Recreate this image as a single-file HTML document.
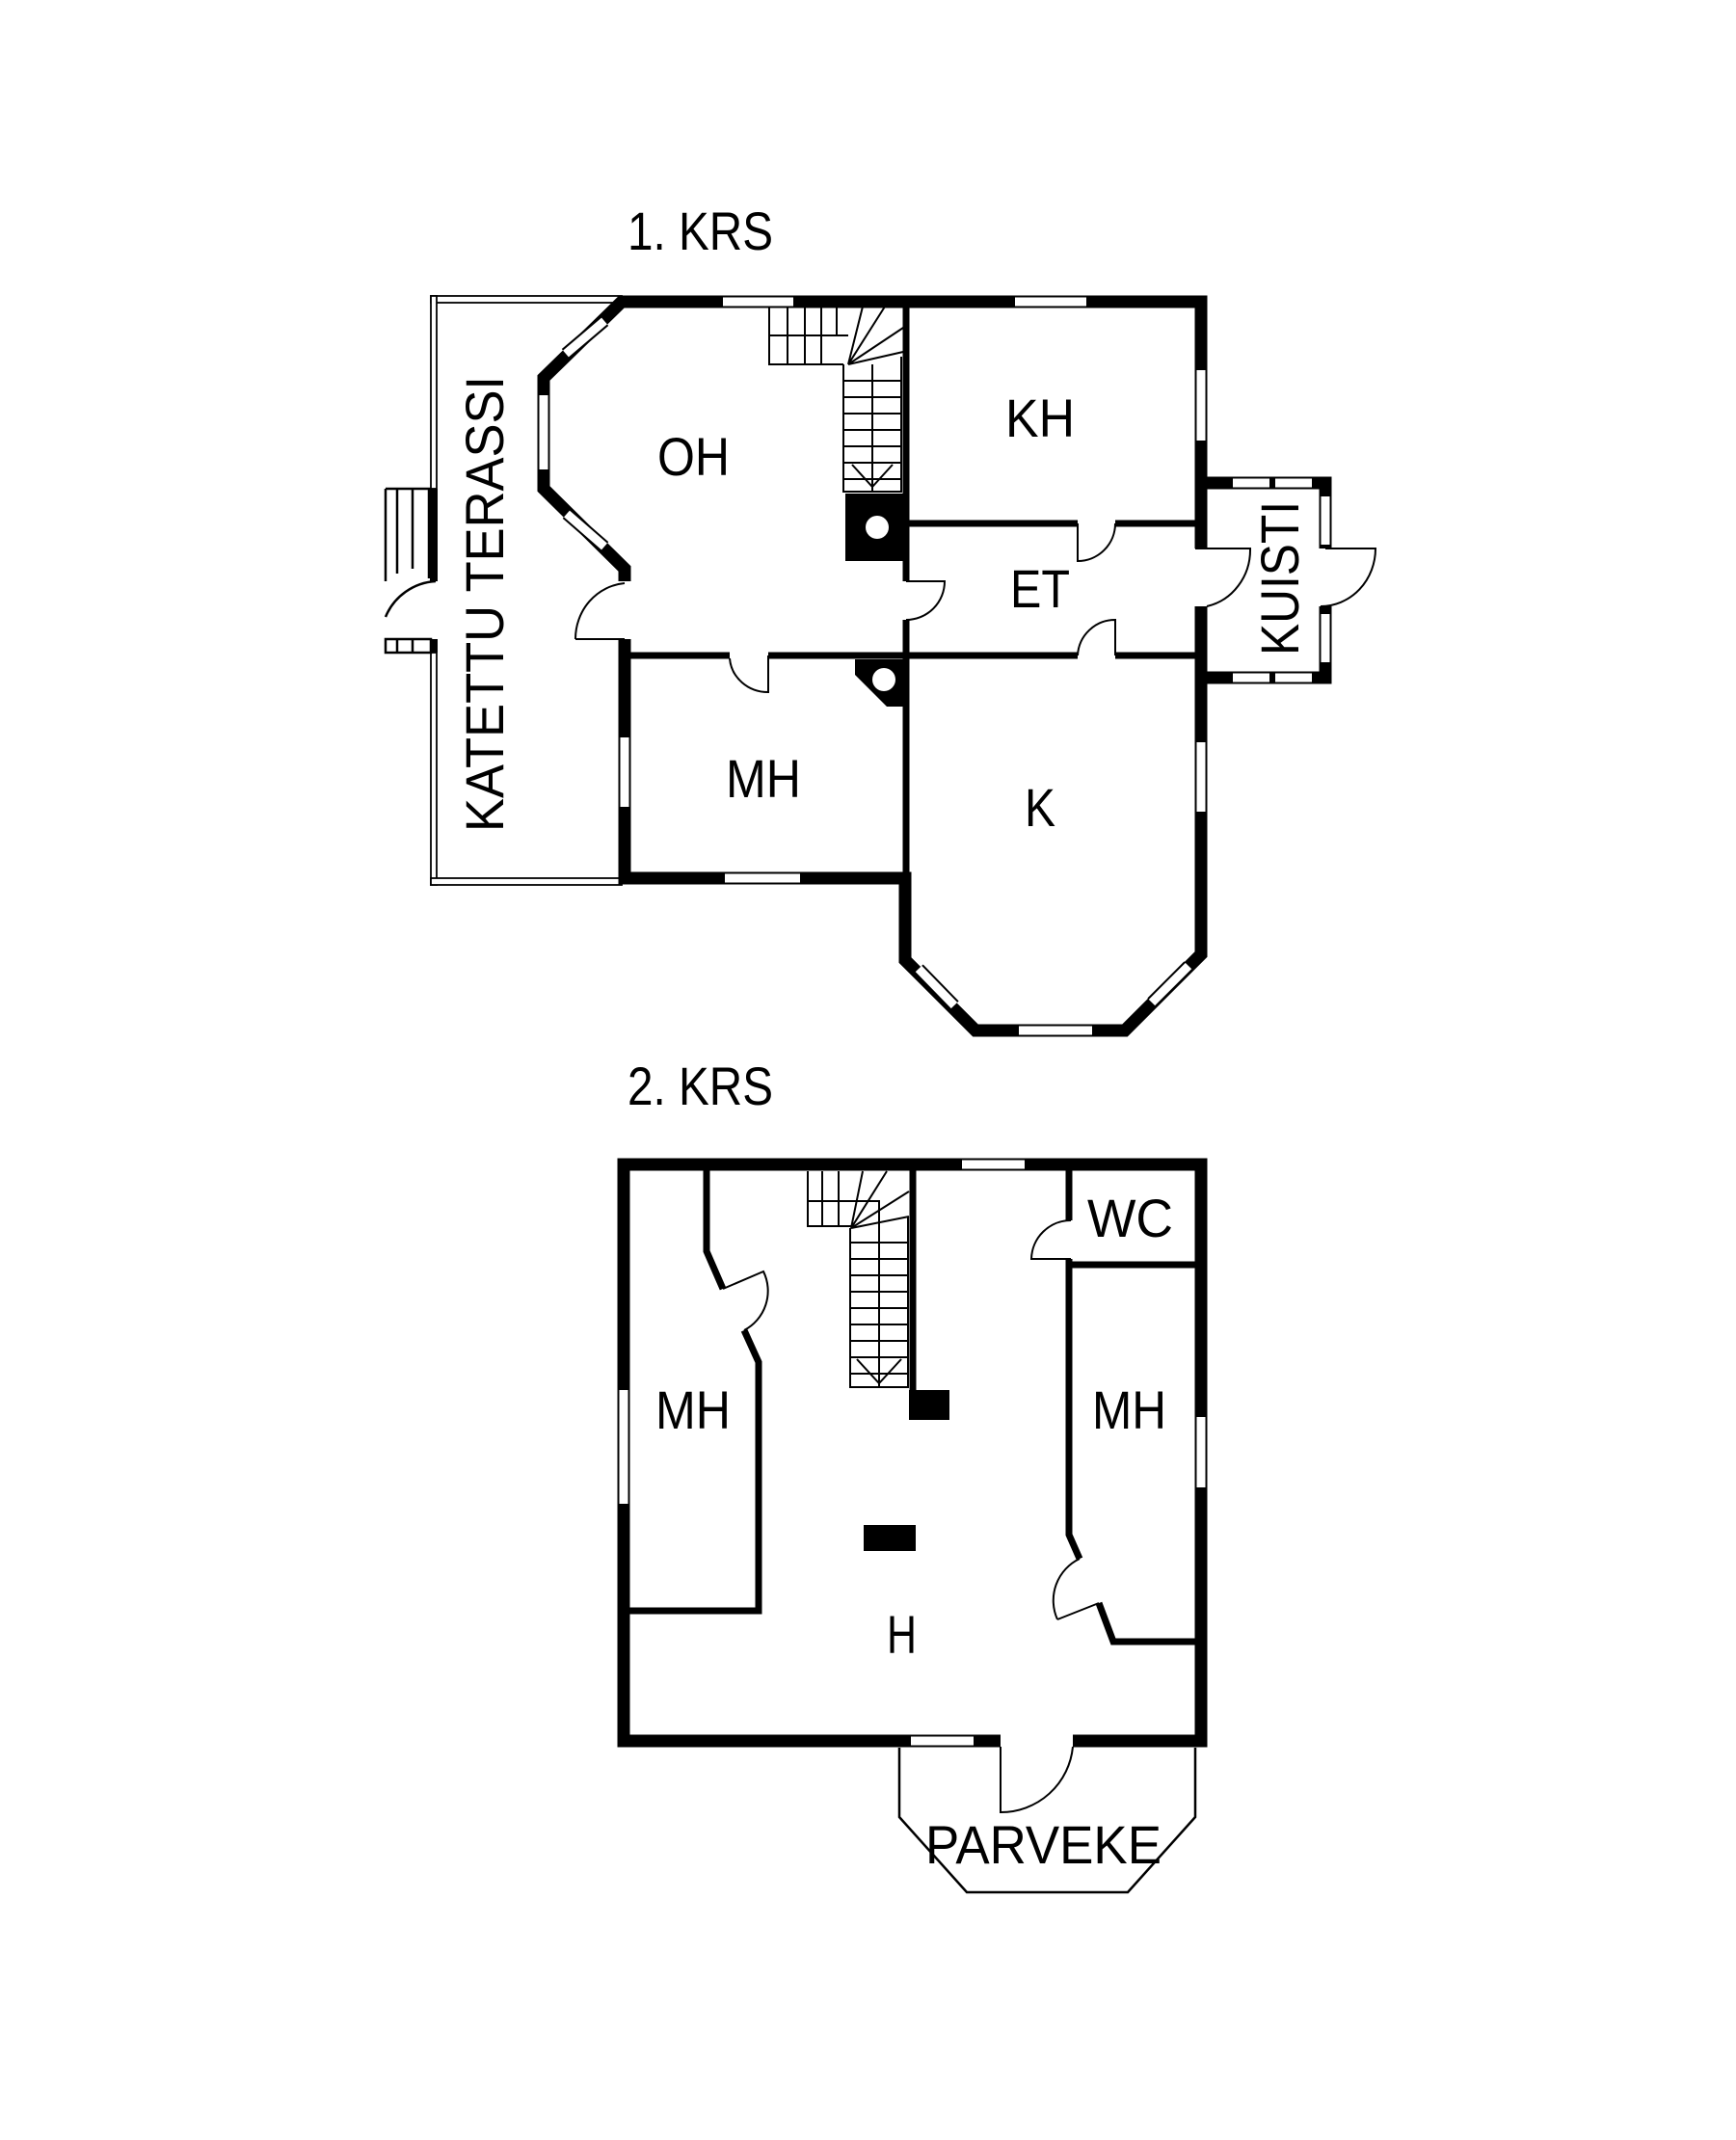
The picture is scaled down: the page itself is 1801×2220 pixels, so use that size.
<!DOCTYPE html>
<html><head><meta charset="utf-8"><style>
html,body{margin:0;padding:0;background:#fff;}
svg{display:block;}
text{font-family:"Liberation Sans",sans-serif;font-size:56px;fill:#000;}
</style></head><body>
<svg width="1801" height="2220" viewBox="0 0 1801 2220" xmlns="http://www.w3.org/2000/svg">
<rect width="1801" height="2220" fill="#fff"/>

<!-- ===== FLOOR 1 ===== -->
<g fill="#fff" stroke="#000" stroke-width="1.8">
<rect x="447" y="307" width="198" height="7"/>
<rect x="447" y="307" width="6" height="200"/>
<rect x="447" y="677" width="6" height="241"/>
<rect x="447" y="911" width="198" height="7"/>
</g>
<rect x="446" y="507" width="8" height="96" fill="#000"/>
<rect x="446" y="663" width="8" height="14" fill="#000"/>
<g fill="none" stroke="#000" stroke-width="2.5">
<path d="M400,507 H447 M400,507 V603 M412,507 V595 M428,507 V590 M445,507 V600"/>
<path d="M400,663 H447 V677 H400 Z M412,663 V677 M428,663 V677"/>
<path d="M452,603 A60,60 0 0 0 400,640"/>
</g>

<path d="M648,603 L648,590 L564,507 L564,392 L645,313 L1246,313 L1246,990 L1167,1069 L1012,1069 L939,996 L939,911 L648,911 L648,663" fill="none" stroke="#000" stroke-width="13" stroke-linejoin="miter"/>
<path d="M1246,501 L1375,501 L1375,703 L1246,703" fill="none" stroke="#000" stroke-width="13"/>

<g stroke="#000" stroke-width="7" fill="none">
<path d="M940,313 V603 M940,643 V911"/>
<path d="M940,543 H1118 M1157,543 H1246"/>
<path d="M940,680 H1118 M1157,680 H1246"/>
<path d="M648,680 H757 M797,680 H940"/>
</g>

<g fill="none">
<g stroke="#000" stroke-width="13">
<path d="M750,313 H823 M1053,313 H1127 M1246,384 V457 M1246,770 V842 M1057,1069 H1133 M648,765 V837 M752,911 H830 M564,410 V487 M587,367 L627,333 M588,533 L627,567 M953,1005 L990,1043 M1195,1040 L1233,1002 M1279,501 H1317 M1323,501 H1361 M1279,703 H1317 M1323,703 H1361 M1375,515 V565 M1375,637 V687"/>
</g>
<g stroke="#fff" stroke-width="9">
<path d="M750,313 H823 M1053,313 H1127 M1246,384 V457 M1246,770 V842 M1057,1069 H1133 M648,765 V837 M752,911 H830 M564,410 V487 M587,367 L627,333 M588,533 L627,567 M953,1005 L990,1043 M1195,1040 L1233,1002 M1279,501 H1317 M1323,501 H1361 M1279,703 H1317 M1323,703 H1361 M1375,515 V565 M1375,637 V687"/>
</g>
</g>
<g fill="#fff">
<rect x="1238" y="569" width="16" height="60"/>
<rect x="1367" y="569" width="16" height="60"/>
</g>
<g fill="none" stroke="#000" stroke-width="2">
<path d="M597,663 H648 M597,663 A56,58 0 0 1 648,605"/>
<path d="M940,603 H980 A40,40 0 0 1 940,643"/>
<path d="M1118,543 V582 A39,39 0 0 0 1157,543"/>
<path d="M1157,680 V643 A39,39 0 0 0 1118,680"/>
<path d="M1240,569 H1297 A57,60 0 0 1 1252,629"/>
<path d="M1375,569 H1427 A57,60 0 0 1 1370,629"/>
<path d="M797,680 V718 A40,38 0 0 1 757,683"/>
</g>

<g fill="none" stroke="#000" stroke-width="2">
<path d="M798,318 V378 H875 M798,348 H880 M817,318 V378 M835,318 V378 M852,318 V378 M868,318 V348"/>
<path d="M880,378 L895,318 M880,378 L918,318 M880,378 L937,340 M880,378 L937,365"/>
<path d="M875,378 V510 H935 V370 M905,378 V510"/>
<path d="M875,395 H935 M875,412 H935 M875,429 H935 M875,446 H935 M875,463 H935 M875,480 H935 M875,497 H935"/>
<path d="M884,482 L905,505 L926,482"/>
</g>
<rect x="877" y="512" width="61" height="70" fill="#000"/>
<circle cx="910" cy="547" r="12" fill="#fff"/>
<polygon points="887,684 937,684 937,733 920,733 887,700" fill="#000"/>
<circle cx="917" cy="705" r="12" fill="#fff"/>

<text x="651" y="259" textLength="151" lengthAdjust="spacingAndGlyphs">1. KRS</text>
<text x="682" y="493" textLength="75" lengthAdjust="spacingAndGlyphs">OH</text>
<text x="1043" y="453" textLength="72" lengthAdjust="spacingAndGlyphs">KH</text>
<text x="1048" y="630" textLength="62" lengthAdjust="spacingAndGlyphs">ET</text>
<text x="753" y="827" textLength="78" lengthAdjust="spacingAndGlyphs">MH</text>
<text x="1063" y="857" textLength="32" lengthAdjust="spacingAndGlyphs">K</text>
<text transform="translate(1347,680) rotate(-90)" textLength="160" lengthAdjust="spacingAndGlyphs">KUISTI</text>
<text transform="translate(522,863) rotate(-90)" textLength="473" lengthAdjust="spacingAndGlyphs">KATETTU TERASSI</text>

<!-- ===== FLOOR 2 ===== -->
<rect x="647" y="1208" width="599" height="598" fill="none" stroke="#000" stroke-width="13"/>
<g fill="none">
<g stroke="#000" stroke-width="13"><path d="M998,1208 H1063 M647,1442 V1560 M1246,1470 V1543 M945,1806 H1010"/></g>
<g stroke="#fff" stroke-width="9"><path d="M998,1208 H1063 M647,1442 V1560 M1246,1470 V1543 M945,1806 H1010"/></g>
</g>
<rect x="1038" y="1798" width="75" height="17" fill="#fff"/>
<path d="M933,1813 L933,1885 L1003,1963 L1170,1963 L1240,1885 L1240,1813" fill="none" stroke="#000" stroke-width="2.5"/>
<path d="M1038,1812 V1880 A75,75 0 0 0 1113,1812" fill="none" stroke="#000" stroke-width="2"/>

<g stroke="#000" stroke-width="7" fill="none" stroke-linejoin="miter">
<path d="M733,1214 L733,1298 L750,1337"/>
<path d="M772,1380 L787,1413 L787,1671 L653,1671"/>
<path d="M1109,1214 V1266"/>
<path d="M1109,1306 V1312 H1240"/>
<path d="M1109,1312 L1109,1592 L1120,1617"/>
<path d="M1140,1663 L1155,1703 L1240,1703"/>
<path d="M947,1214 V1442"/>
</g>
<g fill="none" stroke="#000" stroke-width="2">
<path d="M750,1337 L792,1319 A46,46 0 0 1 772,1380"/>
<path d="M1111,1266 A41,41 0 0 0 1070,1306 H1111"/>
<path d="M1097,1680 L1140,1663 M1120,1617 A48,48 0 0 0 1097,1680"/>
</g>
<g fill="none" stroke="#000" stroke-width="2">
<path d="M838,1215 V1272 H883 M838,1246 H912 V1272 M853,1215 V1272 M870,1215 V1272"/>
<path d="M883,1274 L895,1215 M883,1274 L920,1215 M883,1274 L943,1236 M883,1274 L943,1262"/>
<path d="M882,1274 V1439 H942 V1262 M912,1272 V1439"/>
<path d="M882,1289 H942 M882,1306 H942 M882,1323 H942 M882,1340 H942 M882,1357 H942 M882,1374 H942 M882,1391 H942 M882,1408 H942 M882,1425 H942"/>
<path d="M889,1410 L912,1435 L935,1410"/>
</g>
<rect x="943" y="1442" width="42" height="31" fill="#000"/>
<rect x="896" y="1582" width="54" height="27" fill="#000"/>

<text x="651" y="1146" textLength="151" lengthAdjust="spacingAndGlyphs">2. KRS</text>
<text x="680" y="1482" textLength="78" lengthAdjust="spacingAndGlyphs">MH</text>
<text x="1133" y="1482" textLength="77" lengthAdjust="spacingAndGlyphs">MH</text>
<text x="1128" y="1283" textLength="89" lengthAdjust="spacingAndGlyphs">WC</text>
<text x="920" y="1715" textLength="31" lengthAdjust="spacingAndGlyphs">H</text>
<text x="960" y="1933" textLength="245" lengthAdjust="spacingAndGlyphs">PARVEKE</text>
</svg>
</body></html>
